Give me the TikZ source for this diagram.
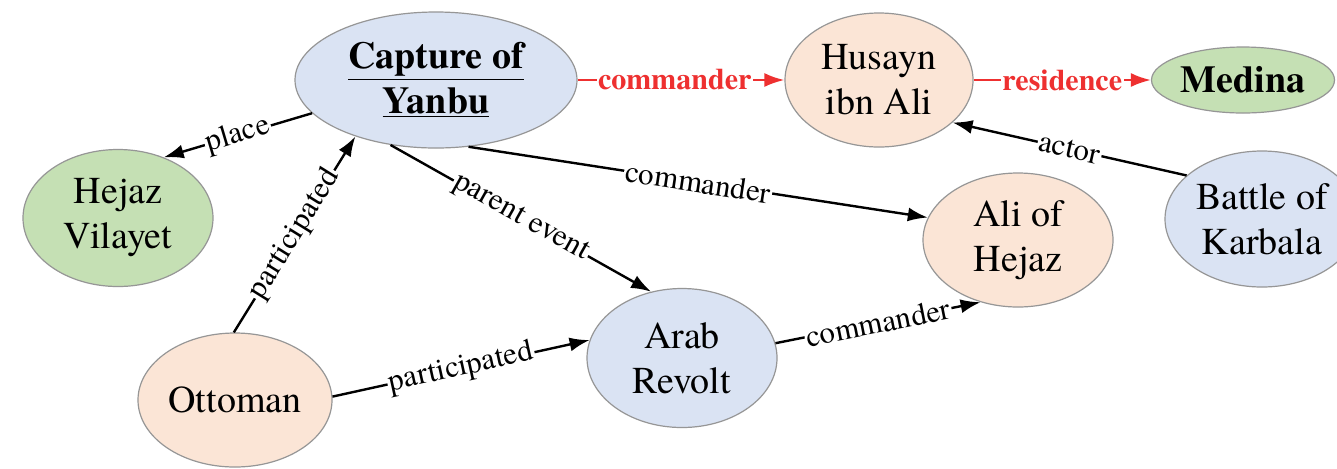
\documentclass[tikz,border=0pt]{standalone}
\usepackage{fontspec}
\setmainfont{TeX Gyre Termes}
\usetikzlibrary{shapes.geometric,arrows.meta}
\definecolor{nblue}{RGB}{218,227,243}
\definecolor{npeach}{RGB}{251,229,214}
\definecolor{ngreen}{RGB}{197,224,180}
\definecolor{nborder}{RGB}{150,150,150}
\definecolor{redge}{RGB}{238,48,48}
\begin{document}
\begin{tikzpicture}[x=0.5pt,y=-0.5pt,
  ent/.style={ellipse, draw=nborder, line width=0.6pt, inner sep=0pt, align=center,
    font=\fontsize{19}{22.5}\selectfont},
  bnode/.style={ent, fill=nblue},
  pnode/.style={ent, fill=npeach},
  gnode/.style={ent, fill=ngreen},
  rel/.style={-{Latex[length=10pt,width=7pt]}, line width=1.2pt, black},
  redrel/.style={rel, draw=redge},
  lab/.style={fill=white, inner sep=0.8pt, sloped, text=black,
    font=\fontsize{15.5}{16}\selectfont},
  redlab/.style={lab, text=redge, font=\fontsize{15}{16}\selectfont\bfseries}]
\useasboundingbox (0,0) rectangle (1337,468);
\fill[white] (0,0) rectangle (1337,468);
% nodes
\node[bnode, minimum width=141pt, minimum height=68pt] (Y) at (436,80)
  {\textbf{\underline{Capture of}}\\\textbf{\underline{Yanbu}}};
\node[pnode, minimum width=94pt, minimum height=67pt] (H) at (879,80) {Husayn\\ibn Ali};
\node[gnode, minimum width=91.5pt, minimum height=33pt] (M) at (1243,80) {\textbf{Medina}};
\node[gnode, minimum width=95pt, minimum height=68.5pt] (V) at (118,218) {Hejaz\\Vilayet};
\node[bnode, minimum width=97pt, minimum height=68pt] (B) at (1262,219) {Battle of\\Karbala};
\node[pnode, minimum width=95pt, minimum height=67pt] (AH) at (1018,240) {Ali of\\Hejaz};
\node[bnode, minimum width=95pt, minimum height=69.5pt] (A) at (682,358) {Arab\\Revolt};
\node[pnode, minimum width=97pt, minimum height=67pt] (O) at (235,400) {Ottoman};
% edges
\draw[rel] (Y.195) -- node[lab]{place} (V.53);
\draw[rel] (O.91) -- node[lab]{participated} (Y.215);
\draw[rel] (Y.235) -- node[lab]{parent event} (A.115);
\draw[rel] (Y.296) -- node[lab]{commander} (AH.166);
\draw[rel] (O.2) -- node[lab]{participated} (A.169);
\draw[rel] (A.9) -- node[lab]{commander} (AH.239);
\draw[redrel] (Y.east) -- node[redlab, pos=0.47]{commander} (H.west);
\draw[redrel] (H.east) -- node[redlab]{residence} (M.west);
\draw[rel] (B.150) -- node[lab]{actor} (H.330);
\end{tikzpicture}
\end{document}
